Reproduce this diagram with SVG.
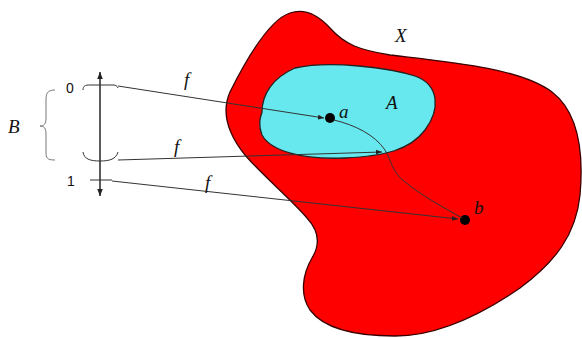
<svg xmlns="http://www.w3.org/2000/svg" width="582" height="338" viewBox="0 0 582 338">
<style>
.lbl{font-family:"Liberation Serif",serif;font-style:italic;font-size:19px;fill:#111}
.num{font-family:"Liberation Sans",sans-serif;font-size:14px;fill:#111}
.conn{stroke:#333;stroke-width:1;fill:none}
.ax{stroke:#333;stroke-width:1.6;fill:none}
</style>
<defs>
<marker id="ah" viewBox="0 0 10 10" refX="10" refY="5" markerWidth="6" markerHeight="6" orient="auto-start-reverse" markerUnits="userSpaceOnUse">
<path d="M0,1 L10,5 L0,9 Z" fill="#222"/>
</marker>
<marker id="ax" viewBox="0 0 10 10" refX="10" refY="5" markerWidth="7" markerHeight="7" orient="auto-start-reverse" markerUnits="userSpaceOnUse">
<path d="M0,1 L10,5 L0,9 Z" fill="#222"/>
</marker>
</defs>
<g id="X">
<path d="M 290,13 C 305,8 318,15 330,28 C 345,45 360,50 390,55 C 450,62 520,68 552,92 C 578,112 584,150 580,195 C 576,235 555,262 520,288 C 485,312 440,336 395,336 C 360,336 325,330 310,310 C 300,295 302,275 312,258 C 320,245 320,232 307,218 C 292,200 262,175 245,155 C 225,130 222,110 230,92 C 242,68 268,20 290,13 Z" fill="#ff0000" stroke="#3a0000" stroke-width="1.3"/>
<text class="lbl" x="395" y="42">X</text>
</g>
<g id="A">
<path d="M 262,112 C 262,95 272,78 295,68 C 330,60 390,68 415,76 C 440,85 440,110 425,130 C 410,150 385,156 345,158 C 300,160 270,150 262,135 C 258,125 260,118 262,112 Z" fill="#66e8ee" stroke="#222" stroke-width="1.3"/>
<text class="lbl" x="386" y="109">A</text>
</g>
<g id="a">
<circle cx="330" cy="118" r="5" fill="#000"/>
<text class="lbl" x="339" y="118">a</text>
</g>
<g id="b">
<circle cx="465" cy="220" r="5" fill="#000"/>
<text class="lbl" x="474" y="214">b</text>
</g>
<g id="B">
<path d="M 55,90 C 47,90 46,94 46,100 L 46,118 C 46,124 44,126 40,126 C 44,126 46,128 46,134 L 46,152 C 46,158 47,160 55,160" fill="none" stroke="#777" stroke-width="1"/>
<text class="lbl" x="8" y="133">B</text>
</g>
<g id="axis">
<line class="ax" x1="100" y1="72" x2="100" y2="196" marker-start="url(#ax)" marker-end="url(#ax)"/>
<path d="M 83,90 C 83,86 85,85 90,85 L 113,85 C 116,85 117,86 118,88" class="conn" stroke-width="1.3"/>
<path d="M 83,152 C 84,159 90,161 100,161 C 110,161 116,159 118,152" class="conn" stroke-width="1.3"/>
<line x1="90" y1="180" x2="112" y2="180" class="conn" stroke-width="1.3"/>
<text class="num" x="66" y="93">0</text>
<text class="num" x="67" y="186">1</text>
</g>
<g id="connectors">
<line class="conn" x1="118" y1="86" x2="324" y2="118" marker-end="url(#ah)"/>
<line class="conn" x1="118" y1="160" x2="382" y2="152" marker-end="url(#ah)"/>
<line class="conn" x1="112" y1="181" x2="458" y2="219" marker-end="url(#ah)"/>
<path class="conn" d="M 334,120 C 355,125 375,135 385,150 C 392,162 392,172 405,182 C 425,198 445,208 462,218" stroke-width="1.5" stroke="#111"/>
<text class="lbl" x="184" y="86">f</text>
<text class="lbl" x="174" y="153">f</text>
<text class="lbl" x="205" y="189">f</text>
</g>
</svg>
